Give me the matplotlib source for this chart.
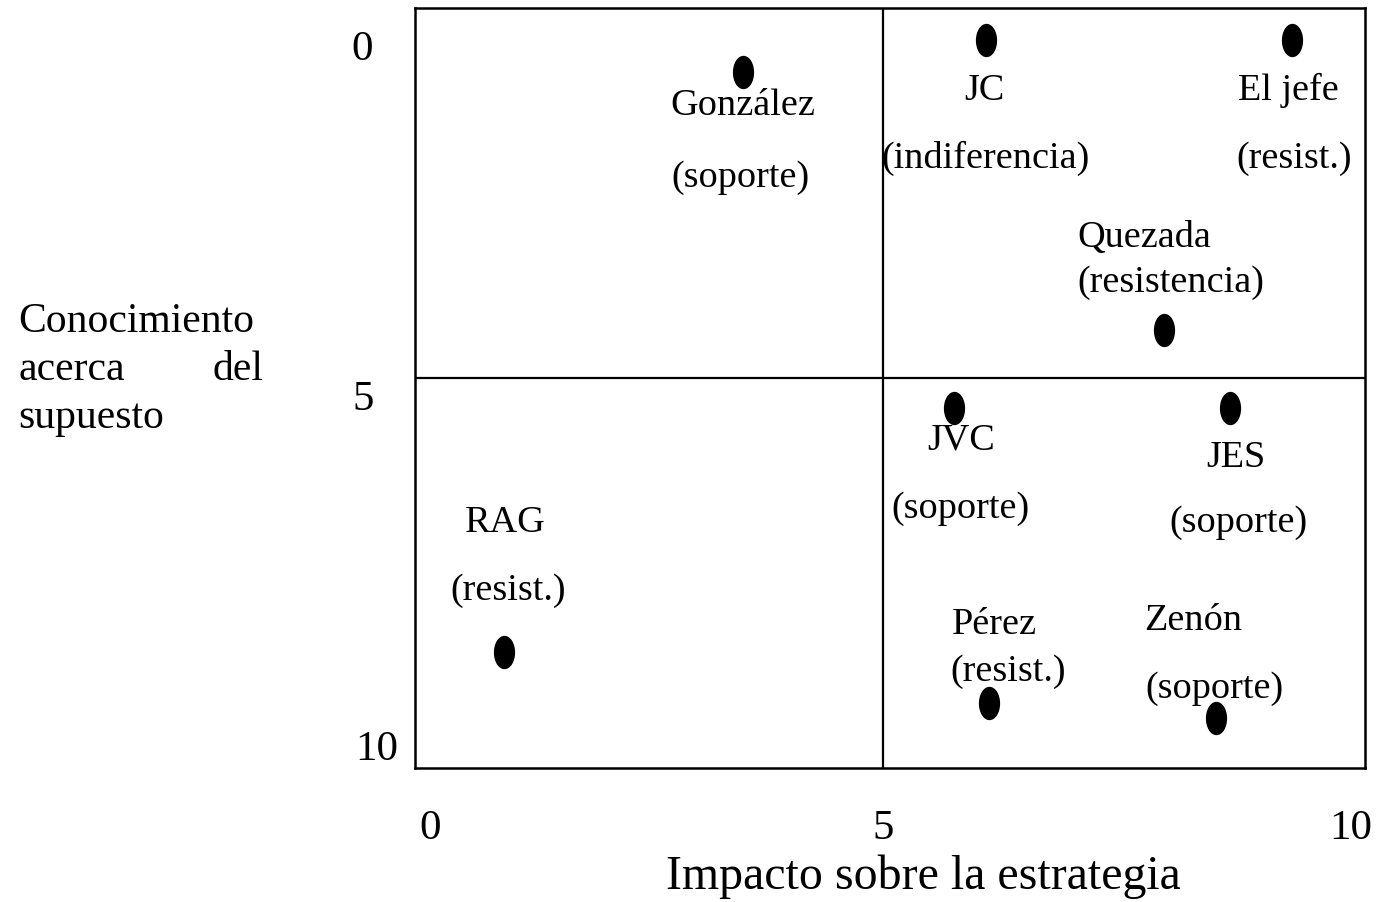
import matplotlib.pyplot as plt
from matplotlib.path import Path
from matplotlib.transforms import Affine2D, ScaledTranslation

plt.rcParams['font.family'] = ['Liberation Serif', 'DejaVu Serif']

# actors: impact (x), knowledge (y, 0 at top)
names = ['González', 'JC', 'El jefe', 'Quezada', 'JVC', 'JES', 'RAG', 'Pérez', 'Zenón']
status = ['(soporte)', '(indiferencia)', '(resist.)', '(resistencia)', '(soporte)',
          '(soporte)', '(resist.)', '(resist.)', '(soporte)']
impacto = [3.50, 6.10, 9.37, 8.00, 5.76, 8.71, 0.95, 6.13, 8.56]
conocimiento = [0.63, 0.17, 0.17, 4.31, 5.43, 5.43, 8.91, 9.64, 9.86]

# where each name / status label sits (data coords)
name_pos = [(3.50, 1.10), (6.08, 0.89), (9.33, 0.89), (7.79, 2.99), (5.83, 5.89),
            (8.77, 6.13), (0.97, 7.06), (6.19, 8.53), (8.32, 8.46)]
status_pos = [(3.48, 2.13), (6.10, 1.86), (9.39, 1.86), (8.08, 3.63), (5.83, 6.86),
              (8.80, 7.06), (1.00, 8.03), (6.34, 9.20), (8.54, 9.43)]

ticks = [0, 5, 10]

fig = plt.figure(figsize=(13.78, 9.02), dpi=100)
ax = fig.add_axes([415 / 1378, 134 / 902, 950 / 1378, 760 / 902])

ax.set_xlim(0, 10.15)
ax.set_ylim(10.57, -0.29)

ax.axvline(5, color='black', lw=1.6)
ax.axhline(5, color='black', lw=1.6)

ellipse = Path(Affine2D().scale(0.62, 1.0).transform(Path.unit_circle().vertices),
               Path.unit_circle().codes)
ax.plot(impacto, conocimiento, ls='none', marker=ellipse, ms=23,
        color='black', mec='black')

for i in range(len(names)):
    ax.text(name_pos[i][0], name_pos[i][1], names[i], fontsize=27.5,
            ha='center', va='center')
    ax.text(status_pos[i][0], status_pos[i][1], status[i], fontsize=27.5,
            ha='center', va='center')

ax.set_xticks(ticks)
ax.set_yticks(ticks)
ax.set_xticklabels([str(t) for t in ticks], fontsize=31)
ax.set_yticklabels([str(t) for t in ticks], fontsize=31)
ax.tick_params(length=0)
ax.tick_params(axis='x', pad=30)
ax.tick_params(axis='y', pad=30)
down = ScaledTranslation(0, -17 / 100, fig.dpi_scale_trans)
for lab in ax.get_yticklabels():
    lab.set_transform(lab.get_transform() + down)
# scanned original: "10" sits closer to the axis, "0" a bit right
ylabs = ax.get_yticklabels()
ylabs[2].set_transform(ylabs[2].get_transform()
                       + ScaledTranslation(25 / 100, 0, fig.dpi_scale_trans))
xlabs = ax.get_xticklabels()
xlabs[0].set_transform(xlabs[0].get_transform()
                       + ScaledTranslation(15 / 100, 0, fig.dpi_scale_trans))

for sp in ax.spines.values():
    sp.set_linewidth(1.8)

fig.text(923 / 1378, 1 - 877 / 902, 'Impacto sobre la estrategia', fontsize=34.5,
         ha='center', va='center')

fig.text(18 / 1378, 1 - 322 / 902, 'Conocimiento', fontsize=30, ha='left', va='center')
fig.text(18 / 1378, 1 - 370 / 902, 'acerca', fontsize=30, ha='left', va='center')
fig.text(263 / 1378, 1 - 370 / 902, 'del', fontsize=30, ha='right', va='center')
fig.text(18 / 1378, 1 - 418 / 902, 'supuesto', fontsize=30, ha='left', va='center')

fig.savefig('out.png', dpi=100)
